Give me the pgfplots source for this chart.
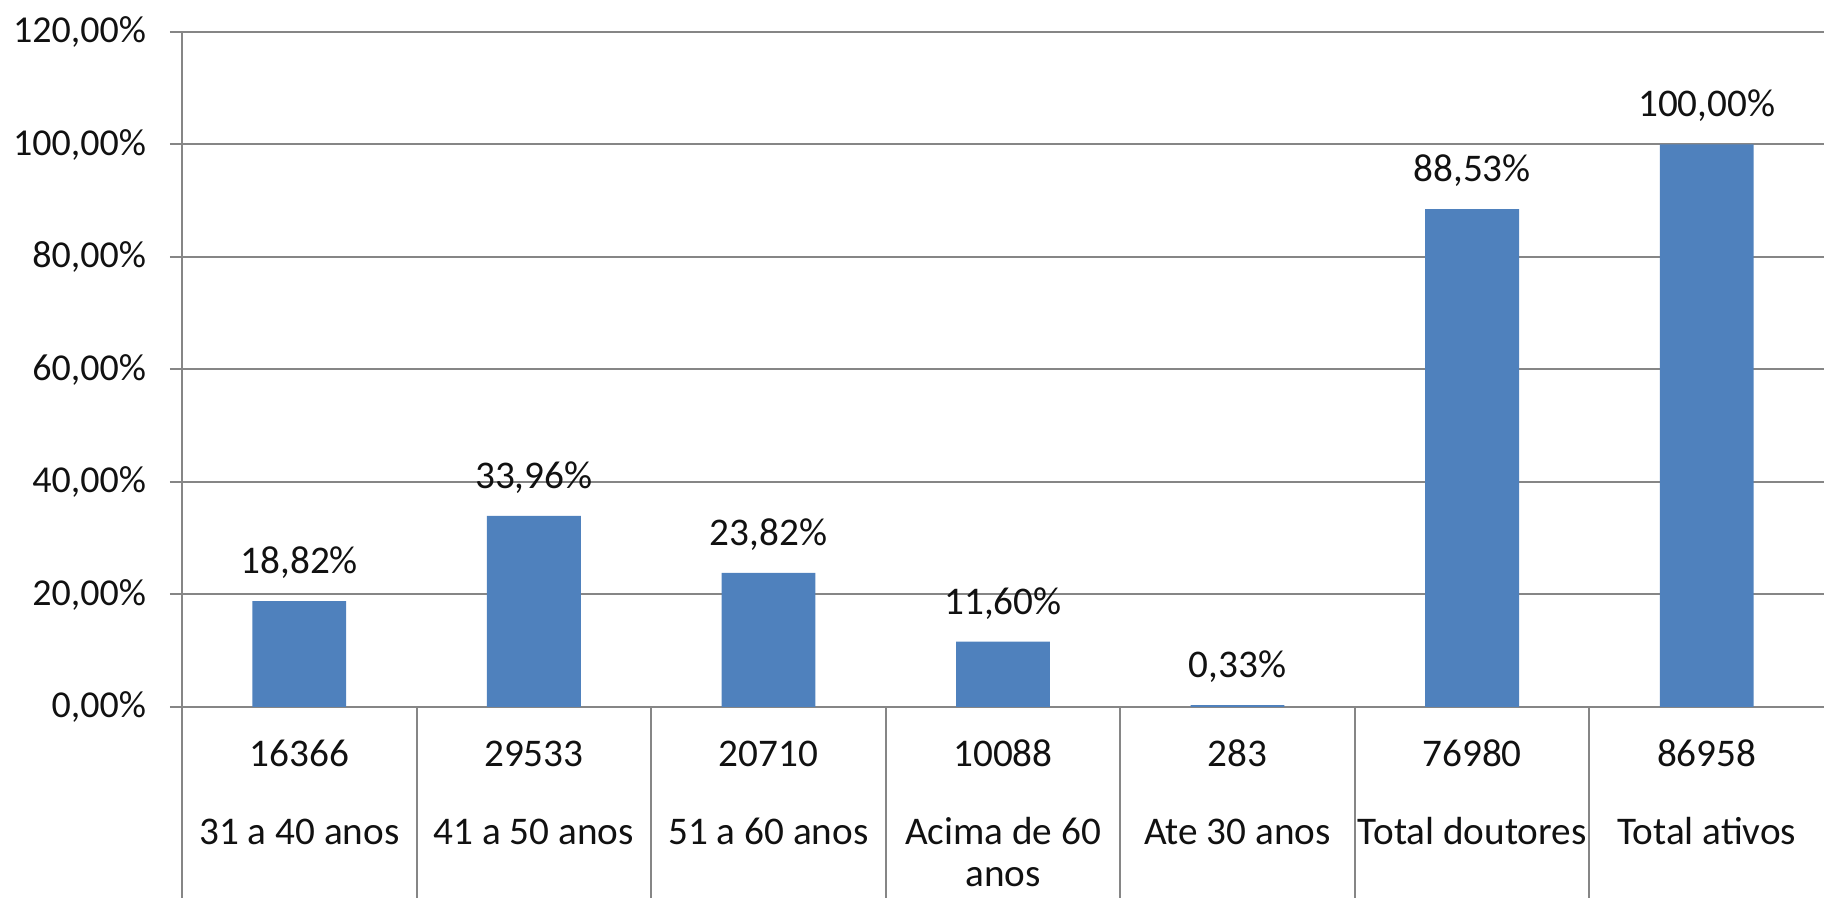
\documentclass[border=0pt]{standalone}
\usepackage{fontspec}
\setmainfont{Carlito}
\usepackage{pgfplots}
\pgfplotsset{compat=1.18}
\definecolor{barblue}{HTML}{4F81BD}
\definecolor{gridgray}{HTML}{868686}
\definecolor{txt}{HTML}{111111}
\begin{document}
\begin{tikzpicture}[font=\fontsize{9.8}{11}\selectfont, text=txt]
\begin{axis}[
  width=410.5pt, height=168.75pt, scale only axis,
  xmin=0, xmax=7, ymin=0, ymax=120,
  axis line style={draw=none},
  xtick=\empty,
  ytick={0,20,40,60,80,100,120},
  yticklabels={0{,}00\%,20{,}00\%,40{,}00\%,60{,}00\%,80{,}00\%,100{,}00\%,120{,}00\%},
  ytick pos=left,
  tick align=outside,
  major tick length=3pt,
  tick style={gridgray, line width=0.5pt},
  yticklabel style={anchor=east, inner sep=0pt, xshift=-5.8pt, font=\fontsize{9.5}{11}\selectfont},
  ymajorgrids,
  grid style={gridgray, line width=0.5pt},
  clip=false,
]
\addplot[ybar, bar width=0.4, fill=barblue, draw=none,
  point meta=explicit symbolic,
  nodes near coords,
  every node near coord/.append style={anchor=base, yshift=6.9pt, font=\fontsize{9.8}{11}\selectfont},
] coordinates {
  (0.5,18.82) [18{,}82\%]
  (1.5,33.96) [33{,}96\%]
  (2.5,23.82) [23{,}82\%]
  (3.5,11.60) [11{,}60\%]
  (4.5,0.33)  [0{,}33\%]
  (5.5,88.53) [88{,}53\%]
  (6.5,100.00) [100{,}00\%]
};
\end{axis}
% category table below the axis (axis box: 0..410.5pt, one column = 58.643pt)
\draw[gridgray, line width=0.5pt] (0,168.75pt) -- (0,-47.75pt);
\foreach \k in {1,...,6} {
  \draw[gridgray, line width=0.5pt] (\k*58.643pt,0) -- (\k*58.643pt,-47.75pt);
}
\foreach \k/\n/\c in {0/16366/31 a 40 anos, 1/29533/41 a 50 anos, 2/20710/51 a 60 anos,
  3/10088/Acima de 60, 4/283/Ate 30 anos, 5/76980/Total doutores, 6/86958/Total ativos} {
  \node[anchor=base, inner sep=0pt] at (\k*58.643pt+29.32pt,-14.9pt) {\n};
  \node[anchor=base, inner sep=0pt] at (\k*58.643pt+29.32pt,-34.4pt) {\c};
}
\node[anchor=base, inner sep=0pt] at (3*58.643pt+29.32pt,-44.9pt) {anos};
\pgfresetboundingbox
\path (-45.5pt,-47.75pt) rectangle (410.5pt,176.75pt);
\end{tikzpicture}
\end{document}
